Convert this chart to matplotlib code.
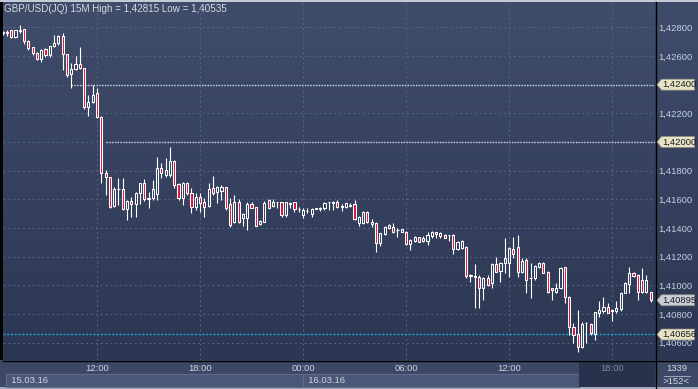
import numpy as np
import matplotlib.pyplot as plt
import matplotlib.transforms as mtransforms
from matplotlib.colors import LinearSegmentedColormap
from matplotlib.patches import Rectangle, Polygon
from matplotlib.ticker import MultipleLocator, FuncFormatter

plt.rcParams['font.family'] = ['Liberation Sans', 'DejaVu Sans']

# === DATA: GBP/USD 15M bars, 15.03.16 06:30 .. 16.03.16 20:15 ===
title = "GBP/USD(JQ) 15M High = 1,42815 Low = 1,40535"

opens = [
    1.42764, 1.42764, 1.42782, 1.42735, 1.42778, 1.42787, 1.42705, 1.42661, 1.42623, 1.42577,
    1.42649, 1.42607, 1.42670, 1.42689, 1.42740, 1.42612, 1.42472, 1.42507, 1.42542, 1.42514,
    1.42246, 1.42281, 1.42340, 1.42177, 1.41786, 1.41754, 1.41551, 1.41670, 1.41670, 1.41530,
    1.41588, 1.41567, 1.41646, 1.41712, 1.41602, 1.41607, 1.41635, 1.41816, 1.41770, 1.41770,
    1.41867, 1.41707, 1.41607, 1.41712, 1.41646, 1.41544, 1.41618, 1.41583, 1.41553, 1.41677,
    1.41649, 1.41658, 1.41684, 1.41567, 1.41439, 1.41581, 1.41469, 1.41469, 1.41565, 1.41543,
    1.41425, 1.41444, 1.41593, 1.41551, 1.41581, 1.41579, 1.41490, 1.41574, 1.41579, 1.41532,
    1.41488, 1.41516, 1.41499, 1.41534, 1.41534, 1.41537, 1.41579, 1.41576, 1.41583, 1.41548,
    1.41544, 1.41555, 1.41567, 1.41437, 1.41432, 1.41513, 1.41439, 1.41432, 1.41293, 1.41356,
    1.41397, 1.41409, 1.41383, 1.41374, 1.41374, 1.41288, 1.41309, 1.41335, 1.41309, 1.41311,
    1.41342, 1.41370, 1.41342, 1.41351, 1.41349, 1.41351, 1.41251, 1.41262, 1.41269, 1.41067,
    1.41060, 1.41060, 1.40983, 1.41053, 1.41014, 1.41146, 1.41099, 1.41153, 1.41153, 1.41253,
    1.41269, 1.41090, 1.41176, 1.41048, 1.41048, 1.41125, 1.41153, 1.41095, 1.40979, 1.40955,
    1.40979, 1.41125, 1.40920, 1.40711, 1.40660, 1.40567, 1.40734, 1.40729, 1.40660, 1.40804,
    1.40822, 1.40846, 1.40820, 1.40822, 1.40832, 1.40948, 1.41009, 1.41088, 1.41072, 1.41037,
    1.40955, 1.40951,
]
highs = [
    1.42775, 1.42782, 1.42785, 1.42785, 1.42815, 1.42789, 1.42712, 1.42665, 1.42628, 1.42647,
    1.42656, 1.42673, 1.42747, 1.42747, 1.42759, 1.42614, 1.42553, 1.42600, 1.42661, 1.42516,
    1.42328, 1.42398, 1.42375, 1.42181, 1.41804, 1.41758, 1.41686, 1.41746, 1.41746, 1.41595,
    1.41618, 1.41653, 1.41716, 1.41740, 1.41653, 1.41735, 1.41897, 1.41851, 1.41886, 1.41967,
    1.41874, 1.41716, 1.41723, 1.41723, 1.41677, 1.41642, 1.41642, 1.41607, 1.41712, 1.41763,
    1.41695, 1.41700, 1.41688, 1.41609, 1.41630, 1.41602, 1.41504, 1.41581, 1.41583, 1.41548,
    1.41455, 1.41588, 1.41602, 1.41600, 1.41583, 1.41583, 1.41583, 1.41581, 1.41583, 1.41546,
    1.41537, 1.41537, 1.41541, 1.41541, 1.41548, 1.41583, 1.41583, 1.41586, 1.41595, 1.41569,
    1.41576, 1.41572, 1.41595, 1.41483, 1.41520, 1.41520, 1.41460, 1.41439, 1.41367, 1.41414,
    1.41425, 1.41432, 1.41397, 1.41393, 1.41381, 1.41321, 1.41342, 1.41339, 1.41344, 1.41372,
    1.41377, 1.41374, 1.41372, 1.41356, 1.41353, 1.41356, 1.41309, 1.41316, 1.41276, 1.41076,
    1.41146, 1.41072, 1.41060, 1.41072, 1.41153, 1.41199, 1.41164, 1.41328, 1.41269, 1.41339,
    1.41351, 1.41192, 1.41188, 1.41153, 1.41141, 1.41164, 1.41164, 1.41102, 1.40983, 1.41014,
    1.41125, 1.41127, 1.40925, 1.40739, 1.40827, 1.40745, 1.40745, 1.40734, 1.40815, 1.40892,
    1.40916, 1.40878, 1.40832, 1.40892, 1.40955, 1.41025, 1.41125, 1.41095, 1.41079, 1.41118,
    1.41072, 1.40955,
]
lows = [
    1.42747, 1.42740, 1.42729, 1.42724, 1.42761, 1.42684, 1.42642, 1.42607, 1.42572, 1.42560,
    1.42593, 1.42595, 1.42665, 1.42677, 1.42502, 1.42456, 1.42379, 1.42502, 1.42507, 1.42228,
    1.42181, 1.42272, 1.42165, 1.41716, 1.41630, 1.41537, 1.41548, 1.41560, 1.41525, 1.41455,
    1.41474, 1.41474, 1.41567, 1.41590, 1.41537, 1.41595, 1.41595, 1.41746, 1.41758, 1.41758,
    1.41677, 1.41595, 1.41560, 1.41630, 1.41506, 1.41525, 1.41513, 1.41474, 1.41548, 1.41630,
    1.41576, 1.41595, 1.41525, 1.41409, 1.41432, 1.41434, 1.41414, 1.41386, 1.41537, 1.41411,
    1.41421, 1.41439, 1.41532, 1.41546, 1.41539, 1.41478, 1.41478, 1.41537, 1.41511, 1.41513,
    1.41471, 1.41502, 1.41478, 1.41530, 1.41518, 1.41525, 1.41525, 1.41525, 1.41537, 1.41520,
    1.41537, 1.41544, 1.41455, 1.41414, 1.41427, 1.41434, 1.41407, 1.41234, 1.41274, 1.41351,
    1.41391, 1.41363, 1.41337, 1.41372, 1.41281, 1.41246, 1.41302, 1.41300, 1.41302, 1.41281,
    1.41332, 1.41332, 1.41332, 1.41328, 1.41309, 1.41218, 1.41246, 1.41253, 1.41048, 1.41021,
    1.40843, 1.40843, 1.40897, 1.40997, 1.40983, 1.41090, 1.41025, 1.41083, 1.41060, 1.41188,
    1.41060, 1.41083, 1.40944, 1.40909, 1.41033, 1.41118, 1.41083, 1.40944, 1.40897, 1.40944,
    1.40972, 1.40874, 1.40653, 1.40595, 1.40535, 1.40560, 1.40595, 1.40653, 1.40618, 1.40781,
    1.40808, 1.40804, 1.40752, 1.40808, 1.40822, 1.40944, 1.40944, 1.41060, 1.40897, 1.40944,
    1.40948, 1.40881,
]
closes = [
    1.42768, 1.42768, 1.42735, 1.42782, 1.42782, 1.42707, 1.42656, 1.42619, 1.42577, 1.42642,
    1.42607, 1.42670, 1.42693, 1.42740, 1.42612, 1.42468, 1.42507, 1.42542, 1.42514, 1.42242,
    1.42281, 1.42328, 1.42172, 1.41781, 1.41754, 1.41543, 1.41670, 1.41674, 1.41530, 1.41588,
    1.41567, 1.41646, 1.41712, 1.41602, 1.41609, 1.41670, 1.41816, 1.41781, 1.41805, 1.41867,
    1.41700, 1.41607, 1.41712, 1.41642, 1.41544, 1.41618, 1.41576, 1.41548, 1.41670, 1.41642,
    1.41688, 1.41688, 1.41539, 1.41421, 1.41579, 1.41441, 1.41495, 1.41565, 1.41541, 1.41416,
    1.41448, 1.41572, 1.41539, 1.41583, 1.41578, 1.41488, 1.41578, 1.41569, 1.41532, 1.41534,
    1.41523, 1.41520, 1.41534, 1.41537, 1.41539, 1.41576, 1.41581, 1.41583, 1.41544, 1.41555,
    1.41572, 1.41560, 1.41460, 1.41478, 1.41513, 1.41439, 1.41425, 1.41295, 1.41363, 1.41409,
    1.41421, 1.41370, 1.41388, 1.41391, 1.41290, 1.41316, 1.41335, 1.41304, 1.41330, 1.41351,
    1.41372, 1.41356, 1.41363, 1.41332, 1.41351, 1.41251, 1.41304, 1.41309, 1.41067, 1.41074,
    1.41062, 1.40983, 1.41048, 1.41002, 1.41146, 1.41095, 1.41153, 1.41188, 1.41258, 1.41216,
    1.41090, 1.41169, 1.41037, 1.41051, 1.41134, 1.41153, 1.41088, 1.40955, 1.40967, 1.40979,
    1.41118, 1.40920, 1.40711, 1.40653, 1.40567, 1.40729, 1.40739, 1.40664, 1.40815, 1.40827,
    1.40846, 1.40808, 1.40827, 1.40839, 1.40944, 1.41014, 1.41083, 1.41065, 1.40955, 1.40955,
    1.41037, 1.40895,
]

time_ticks  = [22, 46, 70, 94, 118, 142]          # bar index of each label
time_labels = ["12:00", "18:00", "00:00", "06:00", "12:00", "18:00"]
date_labels = ["15.03.16", "16.03.16"]
date_edges  = [0.9, 70, 134.3]                    # date boxes along the bar axis
level_lines  = [1.42400, 1.42000]                 # user lines
level_starts = [16, 24]
current_level = 1.40656
bar_count = "1339"
bars_shown = ">152<"

# === FIGURE ===
W, H = 698, 389
FS = 6.8
fig = plt.figure(figsize=(W / 100, H / 100), dpi=100)
fig.patch.set_facecolor('#3c4866')

# overlay in pixel coords for the frame
ov = fig.add_axes([0, 0, 1, 1])
ov.set_xlim(0, W)
ov.set_ylim(H, 0)
ov.axis('off')

bg = LinearSegmentedColormap.from_list('bg', ['#3f4c6a', '#2c3753'])
ov.imshow(np.linspace(0, 1, 200).reshape(-1, 1), cmap=bg, aspect='auto',
          extent=(3, W, 360, 2), zorder=0)
ov.add_patch(Rectangle((0, 0), W, 2, fc='#c3c9d5', ec='none', zorder=1))
ov.add_patch(Rectangle((0, 2), 3, 358, fc='black', ec='none', zorder=1))
ov.add_patch(Rectangle((0, 361), W, 26, fc='#3c4866', ec='none', zorder=1))
ov.add_patch(Rectangle((0, 387), W, 2, fc='#a3abbd', ec='none', zorder=1))

# main chart axes
ax = fig.add_axes([3 / W, (H - 360) / H, 652 / W, 357 / H])
ax.patch.set_visible(False)
for s in ax.spines.values():
    s.set_visible(False)
ax.set_xlim(0.1, 152.0)
ax.set_ylim(1.40478, 1.42970)

# date strip below the time labels (x in bars, y in pixels)
bx = mtransforms.blended_transform_factory(ax.transData, ov.transData)
for k, lab in enumerate(date_labels):
    ov.add_patch(Rectangle((date_edges[k], 374), date_edges[k + 1] - date_edges[k], 13,
                           fc='#4a5777', ec='#5e6b8a', lw=0.8, transform=bx, zorder=2))
    ov.text(date_edges[k], 380.8, "  " + lab, transform=bx, color='#d0d6e2',
            fontsize=FS, va='center', ha='left', zorder=3)
ov.add_patch(Rectangle((date_edges[-1], 362), 152.0 - date_edges[-1], 25,
                       fc='#29324d', ec='none', transform=bx, zorder=2))

ov.plot([655.5, 655.5], [2, H], color='black', lw=1, zorder=4)
ov.plot([3, W], [360.5, 360.5], color='black', lw=1, zorder=4)
ov.text(4, 8.5, title, color='#d6dae2', fontsize=7.1, va='center', ha='left', zorder=4)
ov.text(677, 368.5, bar_count, color='#d0d6e2', fontsize=FS, va='center', ha='center', zorder=4)
ov.plot([664, 690], [375.5, 375.5], color='#9aa3b6', lw=0.8, zorder=4)
ov.text(676.5, 381, bars_shown, color='#d0d6e2', fontsize=FS, va='center', ha='center', zorder=4)


# grid / axes; tick labels hidden where a price tag sits on the scale
def fmt_price(v, pos):
    if any(abs(v - lv) < 1e-7 for lv in level_lines):
        return ""
    return f"{v:.5f}".replace('.', ',')


ax.yaxis.set_major_locator(MultipleLocator(0.002))
ax.yaxis.set_major_formatter(FuncFormatter(fmt_price))
ax.yaxis.tick_right()
ax.set_xticks(time_ticks)
ax.set_xticklabels(time_labels)
ax.tick_params(axis='y', length=0, pad=2.2, labelsize=FS, labelcolor='#c4cfe4')
ax.tick_params(axis='x', length=0, pad=3.2, labelsize=FS, labelcolor='#ccd3e0')
ax.get_xticklabels()[-1].set_color('#7d88a2')
ax.set_axisbelow(True)
ax.grid(True, color='#56648a', ls=(0, (2, 3)), lw=0.7)

# horizontal lines
for lv, st in zip(level_lines, level_starts):
    ax.hlines(lv, st, 152.0, color='#d4d8e2', ls=(0, (1, 1)), lw=1, zorder=2)
ax.axhline(current_level, color='#1fa3d8', ls=(0, (1.5, 1.2)), lw=1, zorder=2)

# candles
idx = np.arange(len(opens))
ax.vlines(idx, lows, highs, color='white', lw=0.8, zorder=3)
for i, (o, c) in enumerate(zip(opens, closes)):
    face = '#e3123c' if c < o else '#34405e'
    ax.add_patch(Rectangle((i - 0.25, min(o, c)), 0.5, max(abs(c - o), 1e-6),
                           fc=face, ec='white', lw=0.75, zorder=4))

# price tags on the right scale
tt = mtransforms.blended_transform_factory(ov.transData, ax.transData)
dy = 5.5 * (1.42970 - 1.40478) / 357


def price_tag(price, face):
    ax.add_patch(Polygon([(657, price), (661.5, price + dy), (694.5, price + dy),
                          (694.5, price - dy), (661.5, price - dy)], closed=True,
                         fc=face, ec='#8a8a80', lw=0.5, transform=tt,
                         clip_on=False, zorder=10))
    ax.text(662, price, f"{price:.5f}".replace('.', ','), transform=tt, color='#1c1c1c',
            fontsize=FS, va='center', ha='left', clip_on=False, zorder=11)


for lv in level_lines:
    price_tag(lv, '#e6e2c6')
price_tag(closes[-1], '#c9cdd6')
price_tag(current_level, '#e6e2c6')

ax.set_xlim(0.1, 152.0)
ax.set_ylim(1.40478, 1.42970)

fig.savefig('out.png', dpi=100, facecolor=fig.get_facecolor())
